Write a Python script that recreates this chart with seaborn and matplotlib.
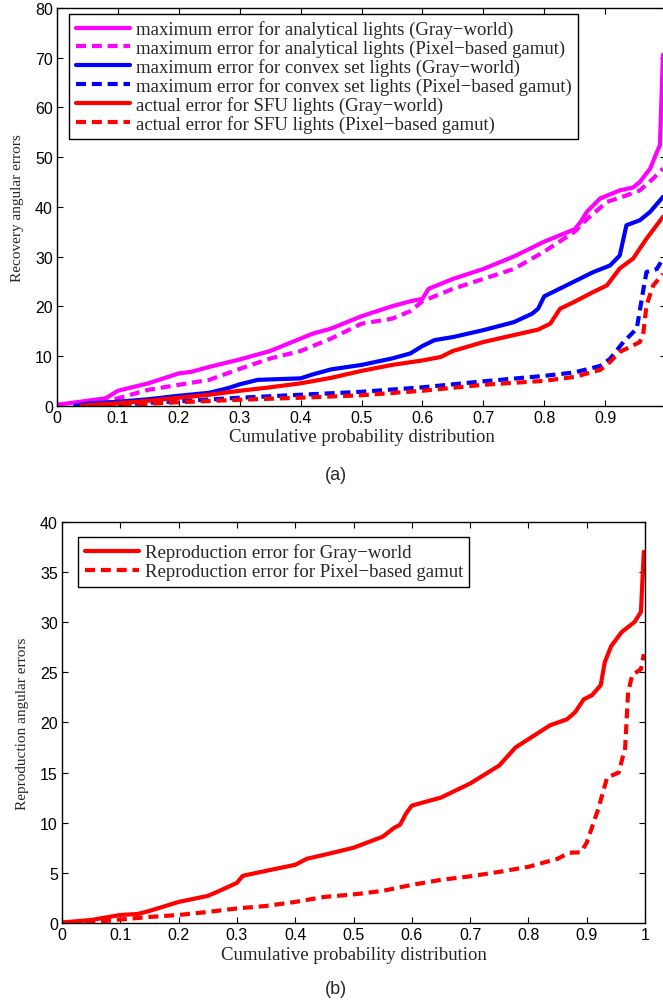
import numpy as np
import pandas as pd
import matplotlib
matplotlib.use("Agg")
import matplotlib.pyplot as plt
import seaborn as sns

# ---- panel (a): recovery angular errors ----
mag_gw_x = [0, 0.02, 0.05, 0.08, 0.1, 0.15, 0.2, 0.22, 0.25, 0.3, 0.35, 0.4, 0.42, 0.45, 0.5,
            0.55, 0.58, 0.6, 0.61, 0.65, 0.7, 0.75, 0.8, 0.85, 0.86, 0.87, 0.892, 0.924, 0.946,
            0.957, 0.974, 0.985, 0.99, 0.995]
mag_gw_y = [0.2, 0.5, 1.0, 1.5, 3.0, 4.5, 6.5, 6.8, 7.8, 9.3, 11.0, 13.5, 14.5, 15.5, 18.0,
            20.0, 21.0, 21.5, 23.5, 25.5, 27.5, 30.0, 33.0, 35.5, 37.0, 39.0, 41.7, 43.3, 43.9,
            45.0, 47.7, 51.0, 52.4, 70.6]

mag_pb_x = [0.07, 0.1, 0.15, 0.2, 0.25, 0.3, 0.35, 0.4, 0.45, 0.5, 0.55, 0.58, 0.6, 0.65, 0.7,
            0.75, 0.8, 0.85, 0.87, 0.903, 0.935, 0.957, 0.979, 0.995]
mag_pb_y = [0.3, 1.5, 3.2, 4.2, 5.2, 7.4, 9.5, 11.0, 13.5, 16.5, 17.5, 19.0, 21.0, 23.5, 25.5,
            27.5, 31.0, 35.0, 37.5, 41.0, 42.3, 43.3, 45.7, 47.7]

blu_gw_x = [0.03, 0.05, 0.1, 0.15, 0.2, 0.25, 0.28, 0.3, 0.33, 0.4, 0.42, 0.45, 0.5, 0.55, 0.58,
            0.6, 0.62, 0.65, 0.7, 0.75, 0.78, 0.79, 0.8, 0.815, 0.848, 0.881, 0.908, 0.924, 0.935,
            0.957, 0.974, 0.995]
blu_gw_y = [0, 0.4, 0.8, 1.3, 2.0, 2.6, 3.5, 4.3, 5.2, 5.5, 6.3, 7.3, 8.2, 9.5, 10.5,
            12.0, 13.2, 13.8, 15.2, 16.8, 18.5, 19.5, 22.0, 22.9, 24.9, 26.9, 28.2, 30.2, 36.3,
            37.3, 39.0, 42.0]

blu_pb_x = [0.05, 0.1, 0.15, 0.2, 0.3, 0.4, 0.5, 0.6, 0.7, 0.8, 0.85, 0.892, 0.908, 0.93, 0.952,
            0.963, 0.968, 0.985, 0.995]
blu_pb_y = [0, 0.2, 0.6, 0.9, 1.6, 2.2, 2.8, 3.7, 4.9, 6.0, 6.7, 8.0, 9.4, 12.8, 15.5,
            23.5, 26.9, 27.5, 29.6]

red_gw_x = [0.04, 0.1, 0.15, 0.2, 0.25, 0.3, 0.35, 0.4, 0.45, 0.5, 0.55, 0.6, 0.63, 0.65, 0.7,
            0.75, 0.79, 0.81, 0.826, 0.848, 0.881, 0.903, 0.924, 0.946, 0.968, 0.995]
red_gw_y = [0, 0.5, 1.0, 1.6, 2.2, 3.0, 3.7, 4.5, 5.6, 7.0, 8.2, 9.1, 9.8, 11.0, 12.8,
            14.2, 15.3, 16.5, 19.5, 20.8, 22.9, 24.2, 27.6, 29.6, 33.6, 38.0]

red_pb_x = [0.08, 0.1, 0.2, 0.3, 0.4, 0.5, 0.6, 0.7, 0.8, 0.85, 0.892, 0.908, 0.924, 0.957,
            0.963, 0.968, 0.979, 0.995]
red_pb_y = [0, 0.1, 0.7, 1.2, 1.6, 2.1, 3.0, 4.2, 5.0, 5.8, 7.2, 8.8, 10.8, 12.8,
            14.8, 20.2, 24.2, 26.5]

labels_a = ["maximum error for analytical lights (Gray\u2212world)",
            "maximum error for analytical lights (Pixel\u2212based gamut)",
            "maximum error for convex set lights (Gray\u2212world)",
            "maximum error for convex set lights (Pixel\u2212based gamut)",
            "actual error for SFU lights (Gray\u2212world)",
            "actual error for SFU lights (Pixel\u2212based gamut)"]

# ---- panel (b): reproduction angular errors ----
rep_gw_x = [0, 0.05, 0.1, 0.13, 0.15, 0.2, 0.25, 0.27, 0.3, 0.31, 0.35, 0.4, 0.42, 0.45, 0.5,
            0.55, 0.57, 0.58, 0.59, 0.6, 0.65, 0.7, 0.75, 0.778, 0.837, 0.866, 0.88, 0.895, 0.909,
            0.924, 0.931, 0.942, 0.96, 0.982, 0.993, 0.998]
rep_gw_y = [0.05, 0.3, 0.8, 0.9, 1.2, 2.1, 2.7, 3.2, 4.0, 4.7, 5.2, 5.8, 6.4, 6.8, 7.5,
            8.6, 9.5, 9.8, 10.9, 11.7, 12.5, 13.9, 15.7, 17.5, 19.7, 20.3, 21.0, 22.3, 22.7,
            23.7, 26.0, 27.6, 29.0, 30.0, 31.0, 37.0]

rep_pb_x = [0.04, 0.1, 0.15, 0.2, 0.25, 0.3, 0.35, 0.4, 0.45, 0.5, 0.55, 0.6, 0.65, 0.7, 0.75,
            0.8, 0.85, 0.87, 0.89, 0.9, 0.92, 0.935, 0.955, 0.966, 0.971, 0.978, 0.993, 0.998]
rep_pb_y = [0, 0.35, 0.6, 0.8, 1.1, 1.45, 1.7, 2.1, 2.6, 2.85, 3.2, 3.8, 4.3, 4.65, 5.1,
            5.6, 6.4, 7.0, 7.05, 8.0, 11.4, 14.5, 15.0, 17.5, 23.0, 24.7, 25.3, 26.8]

labels_b = ["Reproduction error for Gray\u2212world",
            "Reproduction error for Pixel\u2212based gamut"]

x_ticks = [0, 0.1, 0.2, 0.3, 0.4, 0.5, 0.6, 0.7, 0.8, 0.9, 1]
x_ticklabels = ["0", "0.1", "0.2", "0.3", "0.4", "0.5", "0.6", "0.7", "0.8", "0.9", "1"]

sns.set_style("ticks")
plt.rcParams["font.family"] = ["Liberation Sans", "DejaVu Sans"]
serif = ["Liberation Serif", "DejaVu Serif"]

DASH = (0, (2.4, 1.4))
LW = 3.0

fig = plt.figure(figsize=(6.63, 10.03), dpi=100)
ax1 = fig.add_axes([57 / 663, 1 - 406.7 / 1003, 609 / 663, 397.7 / 1003])
ax2 = fig.add_axes([62 / 663, 1 - 924 / 1003, 583 / 663, 401.3 / 1003])

series_a = [(mag_gw_x, mag_gw_y, "#ff00ff", "-"),
            (mag_pb_x, mag_pb_y, "#ff00ff", DASH),
            (blu_gw_x, blu_gw_y, "#0000ff", "-"),
            (blu_pb_x, blu_pb_y, "#0000ff", DASH),
            (red_gw_x, red_gw_y, "#ff0000", "-"),
            (red_pb_x, red_pb_y, "#ff0000", DASH)]
for (xs, ys, c, ls), lab in zip(series_a, labels_a):
    sns.lineplot(x=xs, y=ys, ax=ax1, color=c, linestyle=ls, linewidth=LW,
                 estimator=None, sort=False, label=lab)

series_b = [(rep_gw_x, rep_gw_y, "#ff0000", "-"),
            (rep_pb_x, rep_pb_y, "#ff0000", DASH)]
for (xs, ys, c, ls), lab in zip(series_b, labels_b):
    sns.lineplot(x=xs, y=ys, ax=ax2, color=c, linestyle=ls, linewidth=LW,
                 estimator=None, sort=False, label=lab)

for ax, ymax, ystep in [(ax1, 80, 10), (ax2, 40, 5)]:
    ax.set_xlim(0, 1)
    ax.set_ylim(0, ymax)
    ax.set_xticks(x_ticks)
    ax.set_xticklabels(x_ticklabels)
    ax.set_yticks(np.arange(0, ymax + 1, ystep))
    ax.tick_params(direction="in", length=4, width=0.8, top=True, right=True,
                   labelsize=11.5, colors="black", pad=3)
    for sp in ax.spines.values():
        sp.set_visible(True)
        sp.set_linewidth(1.0)
        sp.set_color("black")
    ax.set_xlabel("Cumulative probability distribution", family=serif, fontsize=13.5, labelpad=2.5)

# the "1" label of panel (a) falls outside the figure in the reference
ax1.get_xticklabels()[-1].set_visible(False)

ax1.set_ylabel("Recovery angular errors", family=serif, fontsize=11, labelpad=8)
ax2.set_ylabel("Reproduction angular errors", family=serif, fontsize=11, labelpad=8)

leg_kw = dict(prop={"family": serif, "size": 13.5}, frameon=True, fancybox=False,
              framealpha=1, edgecolor="black", handlelength=2.9, handletextpad=0.3,
              borderaxespad=0, borderpad=0.35, labelspacing=0.05)
l1 = ax1.legend(loc="upper left", bbox_to_anchor=((69 - 57) / 609, (406.7 - 14.7) / 397.7), **leg_kw)
l2 = ax2.legend(loc="upper left", bbox_to_anchor=((78 - 62) / 583, (924 - 538) / 401.3), **leg_kw)
for l in (l1, l2):
    l.get_frame().set_linewidth(1.0)

fig.text(336 / 663, 1 - 476 / 1003, "(a)", ha="center", va="center", fontsize=13)
fig.text(336 / 663, 1 - 990 / 1003, "(b)", ha="center", va="center", fontsize=13)

fig.savefig("out.png", dpi=100, facecolor="white")
